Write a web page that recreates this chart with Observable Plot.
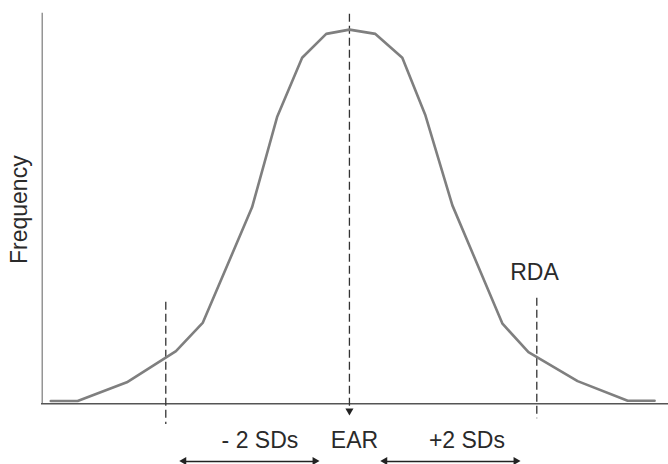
<!DOCTYPE html>
<html>
<head>
<meta charset="utf-8">
<script src="https://cdn.jsdelivr.net/npm/d3@7"></script>
<script src="https://cdn.jsdelivr.net/npm/@observablehq/plot@0.6"></script>
<style>
  html, body { margin: 0; padding: 0; background: #fff; }
</style>
</head>
<body>
<div id="chart"></div>
<script>
// Curve sample points (x in SD units from EAR, y = relative frequency)
const curveX = [-3.22, -2.93, -2.40, -1.87, -1.58, -1.05, -0.78, -0.51, -0.25, 0, 0.28, 0.57, 0.82, 1.11, 1.65, 1.93, 2.46, 3.0, 3.29];
const curveY = [0.007, 0.007, 0.055, 0.135, 0.208, 0.503, 0.734, 0.886, 0.947, 0.958, 0.947, 0.886, 0.738, 0.508, 0.205, 0.132, 0.058, 0.008, 0.008];

// Reference lines (x in SD units)
const refNames = ["-2 SD", "EAR", "RDA"];
const refX = [-1.98, 0, 2.02];
const refTop = [0.26, 0.997, 0.27];
const refBottom = [-0.053, -0.012, -0.038];

// Labels below the axis
const bottomLabels = ["- 2 SDs", "EAR", "+2 SDs"];
const bottomLabelX = [-0.965, 0.054, 1.267];

// Double-headed arrows (x extents in SD units)
const arrowFrom = [-1.779, 0.388];
const arrowTo = [-0.367, 1.80];

const xDomain = [-3.32, 3.44];
const yDomain = [0, 1];

const curve = curveX.map((x, i) => ({x, y: curveY[i]}));
const refs = refNames.map((name, i) => ({name, x: refX[i], y1: refTop[i], y2: refBottom[i]}));
const labels = bottomLabels.map((text, i) => ({text, x: bottomLabelX[i]}));
const arrows = arrowFrom.map((a, i) => ({x1: a, x2: arrowTo[i]}));
const arrowY = -0.1477;
const labelY = -0.112;

const heads = [];
arrows.forEach(a => {
  heads.push({x: a.x1, rot: -90, dx: 4.67});
  heads.push({x: a.x2, rot: 90, dx: -4.67});
});

const chart = Plot.plot({
  width: 668,
  height: 464,
  marginLeft: 41,
  marginRight: 0,
  marginTop: 12.7,
  marginBottom: 60.7,
  x: {domain: xDomain, axis: null},
  y: {domain: yDomain, axis: null},
  style: {background: "white", fontFamily: "'Liberation Sans', Arial, sans-serif"},
  marks: [
    // axes lines
    Plot.ruleX([xDomain[0]], {y1: 0, y2: 1, stroke: "#7a7a7a", strokeWidth: 1.2, dx: 0.7}),
    Plot.ruleY([0], {x1: xDomain[0], x2: xDomain[1], stroke: "#555", strokeWidth: 1.5}),
    // dashed reference lines
    Plot.ruleX(refs, {x: "x", y1: "y1", y2: "y2", stroke: "#333", strokeWidth: 1.3, strokeDasharray: "8,4"}),
    // EAR arrowhead
    Plot.dot([{x: 0, y: -0.030}], {x: "x", y: "y", symbol: "triangle", r: 3, fill: "#222", stroke: "none", rotate: 180, dy: -4.67}),
    // curve
    Plot.line(curve, {x: "x", y: "y", stroke: "#7f7f7f", strokeWidth: 2.6, strokeLinejoin: "round"}),
    // bottom arrows
    Plot.link(arrows, {x1: "x1", x2: "x2", y1: arrowY, y2: arrowY, stroke: "#222", strokeWidth: 1.3}),
    Plot.dot(heads, {x: "x", y: arrowY, symbol: "triangle", r: 3, fill: "#222", stroke: "none", rotate: "rot", dx: "dx"}),
    // texts
    Plot.text(labels, {x: "x", y: labelY, text: "text", fontSize: 23, fill: "#2a2a2a", lineAnchor: "bottom"}),
    Plot.text(["RDA"], {x: 1.995, y: 0.318, text: d => d, fontSize: 23, fill: "#2a2a2a", lineAnchor: "bottom"}),
    Plot.text(["Frequency"], {x: -3.471, y: 0.497, text: d => d, fontSize: 23, fill: "#2a2a2a", lineAnchor: "bottom", rotate: -90})
  ]
});
document.getElementById("chart").appendChild(chart);
</script>
</body>
</html>
